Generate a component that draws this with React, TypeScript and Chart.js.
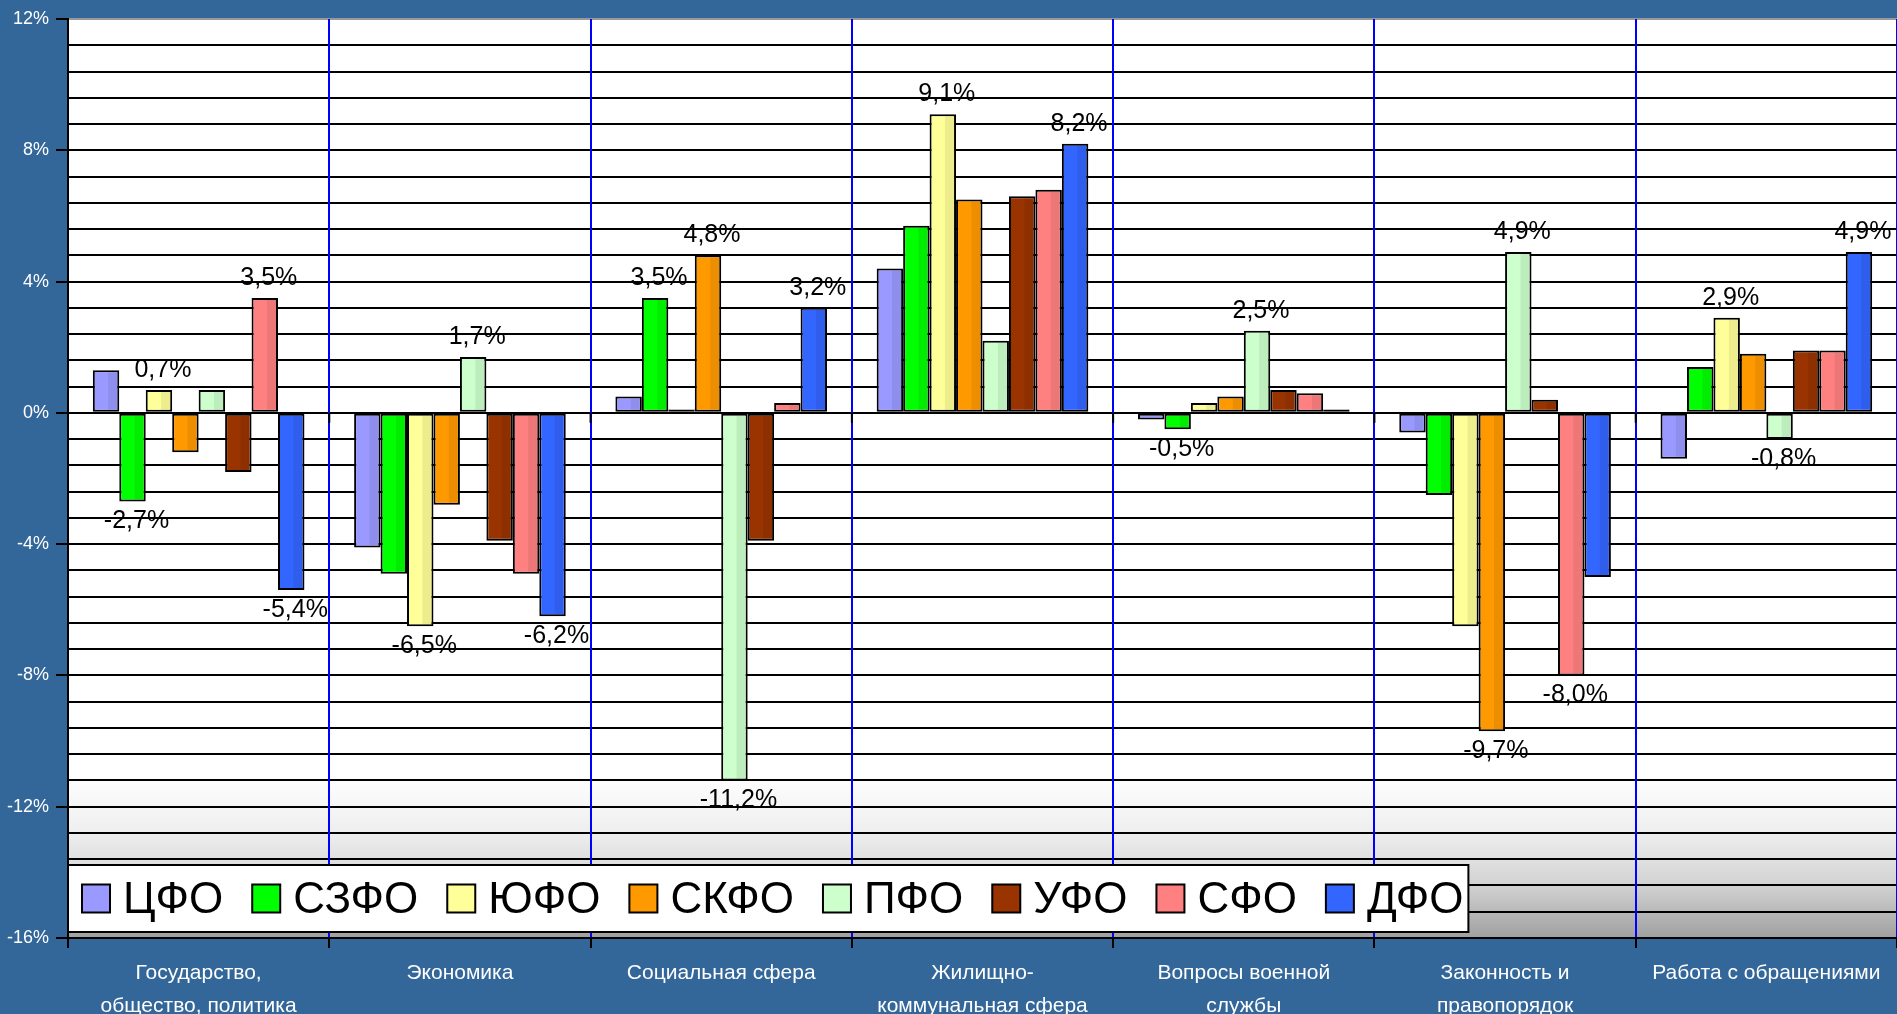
import React, { useEffect, useRef } from 'react';
import { Chart, registerables } from 'chart.js';

Chart.register(...registerables);

// ---------- data ----------
const categories: string[][] = [
  ['Государство,', 'общество, политика'],
  ['Экономика'],
  ['Социальная сфера'],
  ['Жилищно-', 'коммунальная сфера'],
  ['Вопросы военной', 'службы'],
  ['Законность и', 'правопорядок'],
  ['Работа с обращениями'],
];

const seriesNames = ['ЦФО', 'СЗФО', 'ЮФО', 'СКФО', 'ПФО', 'УФО', 'СФО', 'ДФО'];

const cfo = [1.3, -4.1, 0.5, 4.4, -0.2, -0.6, -1.4];
const szfo = [-2.7, -4.9, 3.5, 5.7, -0.5, -2.5, 1.4];
const yufo = [0.7, -6.5, 0.1, 9.1, 0.3, -6.5, 2.9];
const skfo = [-1.2, -2.8, 4.8, 6.5, 0.5, -9.7, 1.8];
const pfo = [0.7, 1.7, -11.2, 2.2, 2.5, 4.9, -0.8];
const ufo = [-1.8, -3.9, -3.9, 6.6, 0.7, 0.4, 1.9];
const sfo = [3.5, -4.9, 0.3, 6.8, 0.6, -8.0, 1.9];
const dfo = [-5.4, -6.2, 3.2, 8.2, 0.1, -5.0, 4.9];

const seriesValues = [cfo, szfo, yufo, skfo, pfo, ufo, sfo, dfo];

// [seriesIndex, categoryIndex] of bars that carry a value label
const labeledBars: [number, number][] = [
  [2, 0], [6, 0], [1, 0], [7, 0],
  [4, 1], [2, 1], [7, 1],
  [1, 2], [3, 2], [7, 2], [4, 2],
  [2, 3], [7, 3],
  [1, 4], [4, 4],
  [4, 5], [3, 5], [6, 5],
  [2, 6], [4, 6], [7, 6],
];

const yMin = -16;
const yMax = 12;
const yMajorStep = 4;
const yGridStep = 0.8;

// ---------- styles ----------
const seriesColors = ['#9999FF', '#00FF00', '#FFFF99', '#FF9900', '#CCFFCC', '#993300', '#FF8080', '#3366FF'];
const FONT = '"Liberation Sans", Arial, sans-serif';
const BG = '#336699';

const isMajor = (v: number) => Math.abs(v / yMajorStep - Math.round(v / yMajorStep)) < 1e-6;
const fmt = (v: number) => v.toFixed(1).replace('.', ',') + '%';

const plotBgPlugin = {
  id: 'plotBg',
  beforeDraw(chart: any) {
    const { ctx, chartArea } = chart;
    const y = chart.scales.y;
    const g = ctx.createLinearGradient(0, y.getPixelForValue(-11), 0, y.getPixelForValue(-16));
    g.addColorStop(0, '#ffffff');
    g.addColorStop(0.36, '#eeeeee');
    g.addColorStop(0.68, '#d2d2d2');
    g.addColorStop(1, '#a0a0a0');
    ctx.save();
    ctx.fillStyle = g;
    ctx.fillRect(chartArea.left, chartArea.top, chartArea.right - chartArea.left, chartArea.bottom - chartArea.top);
    ctx.restore();
  },
};

const zeroTicksPlugin = {
  id: 'zeroTicks',
  beforeDatasetsDraw(chart: any) {
    const { ctx, chartArea } = chart;
    const y0 = chart.scales.y.getPixelForValue(0);
    const n = categories.length;
    const w = (chartArea.right - chartArea.left) / n;
    ctx.save();
    ctx.strokeStyle = '#000';
    ctx.lineWidth = 2;
    for (let i = 1; i < n; i++) {
      const x = chartArea.left + i * w;
      ctx.beginPath();
      ctx.moveTo(x, y0);
      ctx.lineTo(x, y0 + 10);
      ctx.stroke();
    }
    ctx.restore();
  },
};

const barDecorPlugin = {
  id: 'barDecor',
  afterDatasetsDraw(chart: any) {
    const ctx = chart.ctx;
    ctx.save();
    chart.data.datasets.forEach((_ds: any, di: number) => {
      const meta = chart.getDatasetMeta(di);
      meta.data.forEach((el: any) => {
        const { x, y, base, width } = el.getProps(['x', 'y', 'base', 'width'], true);
        const top = Math.min(y, base);
        const bottom = Math.max(y, base);
        if (bottom - top < 6) return;
        const l = x - width / 2;
        const r = x + width / 2;
        ctx.fillStyle = 'rgba(0,0,0,0.07)';
        ctx.fillRect(l + width * 0.58, top + 2, r - 2 - (l + width * 0.58), bottom - top - 4);
      });
    });
    ctx.fillStyle = '#000';
    ctx.font = `25px ${FONT}`;
    ctx.textAlign = 'center';
    ctx.textBaseline = 'middle';
    labeledBars.forEach(([si, ci]) => {
      const el: any = chart.getDatasetMeta(si).data[ci];
      if (!el) return;
      const { x, y } = el.getProps(['x', 'y'], true);
      const v = seriesValues[si][ci];
      const ty = v >= 0 ? y - 20 : y + 20;
      ctx.fillText(fmt(v), x + 4, ty);
    });
    ctx.restore();
  },
};

const legendPlugin = {
  id: 'customLegend',
  afterDraw(chart: any) {
    const { ctx, chartArea } = chart;
    const boxLeft = chartArea.left;
    const boxTop = chartArea.bottom - 73;
    const boxH = 67;
    const sq = 28;
    const fontSize = 44;
    ctx.save();
    ctx.font = `${fontSize}px ${FONT}`;
    const widths = seriesNames.map((s) => ctx.measureText(s).width);
    const padL = 14, padR = 5, gapSqText = 13, gapItem = 29;
    let total = padL + padR;
    widths.forEach((w, i) => {
      total += sq + gapSqText + w + (i < widths.length - 1 ? gapItem : 0);
    });
    ctx.fillStyle = '#fff';
    ctx.fillRect(boxLeft, boxTop, total, boxH);
    ctx.strokeStyle = '#000';
    ctx.lineWidth = 2;
    ctx.strokeRect(boxLeft, boxTop, total, boxH);
    const cy = boxTop + boxH / 2;
    let x = boxLeft + padL;
    ctx.textAlign = 'left';
    ctx.textBaseline = 'middle';
    seriesNames.forEach((name, i) => {
      ctx.fillStyle = seriesColors[i];
      ctx.fillRect(x, cy - sq / 2, sq, sq);
      ctx.strokeStyle = '#000';
      ctx.lineWidth = 2;
      ctx.strokeRect(x, cy - sq / 2, sq, sq);
      x += sq + gapSqText;
      ctx.fillStyle = '#000';
      ctx.fillText(name, x, cy + 2);
      x += widths[i] + gapItem;
    });
    ctx.restore();
  },
};

export default function App() {
  const ref = useRef<HTMLCanvasElement | null>(null);

  useEffect(() => {
    const canvas = ref.current;
    if (!canvas) return;
    const chart = new Chart(canvas, {
      type: 'bar',
      data: {
        labels: categories,
        datasets: seriesNames.map((name, i) => ({
          label: name,
          data: seriesValues[i],
          backgroundColor: seriesColors[i],
          borderColor: '#000',
          borderWidth: 2,
          borderSkipped: false,
          categoryPercentage: 0.81,
          barPercentage: 1.0,
        })),
      },
      options: {
        responsive: false,
        maintainAspectRatio: false,
        animation: false,
        devicePixelRatio: 1,
        layout: { padding: { top: 19, left: 0, right: 0, bottom: 0 } },
        plugins: {
          legend: { display: false },
          tooltip: { enabled: false },
          title: { display: false },
        },
        scales: {
          x: {
            type: 'category',
            offset: true,
            grid: {
              offset: true,
              color: (c: any) => (c.index === 0 || c.index >= categories.length ? 'rgba(0,0,0,0)' : '#0000FF'),
              lineWidth: 2,
              tickColor: '#000',
              tickLength: 10,
              drawTicks: true,
              z: -1,
            },
            border: { display: true, color: '#000', width: 2 },
            ticks: {
              color: '#ffffff',
              font: { size: 21, family: FONT, lineHeight: 1.57 },
              padding: 9,
              autoSkip: false,
              maxRotation: 0,
              minRotation: 0,
            },
            afterFit: (s: any) => {
              s.height = 76;
            },
          },
          y: {
            type: 'linear',
            min: yMin,
            max: yMax,
            grid: {
              color: (c: any) => (c.tick && Math.abs(c.tick.value - yMax) < 1e-6 ? '#999999' : '#000000'),
              lineWidth: 2,
              tickLength: 12,
              tickColor: (c: any) => (c.tick && isMajor(c.tick.value) ? '#000' : 'rgba(0,0,0,0)'),
              z: -2,
            },
            border: { display: true, color: '#000', width: 2 },
            ticks: {
              stepSize: yGridStep,
              autoSkip: false,
              color: '#ffffff',
              font: { size: 18, family: FONT },
              padding: 7,
              callback: (v: any) => (isMajor(Number(v)) ? `${Math.round(Number(v))}%` : ''),
            },
            afterFit: (s: any) => {
              s.width = 68;
            },
          },
        },
      } as any,
      plugins: [plotBgPlugin, zeroTicksPlugin, barDecorPlugin, legendPlugin],
    });
    return () => chart.destroy();
  }, []);

  return (
    <div
      style={{
        position: 'fixed',
        left: 0,
        top: 0,
        width: 1897,
        height: 1014,
        background: BG,
        overflow: 'hidden',
      }}
    >
      <canvas ref={ref} width={1897} height={1014} style={{ display: 'block', width: 1897, height: 1014 }} />
    </div>
  );
}
